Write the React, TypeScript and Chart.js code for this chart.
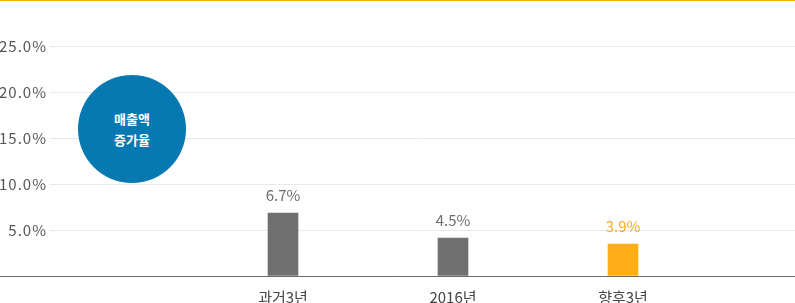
import React, { useEffect, useRef } from 'react';
import { Chart, registerables } from 'chart.js';

Chart.register(...registerables);

const categories = ['과거3년', '2016년', '향후3년'];
const growthValues = [6.85, 4.13, 3.48];
const valueLabels = ['6.7%', '4.5%', '3.9%'];
const barColors = ['#707070', '#707070', '#fdae17'];
const labelColors = ['#6e6e6e', '#6e6e6e', '#f9a825'];
const yTickValues = [5, 10, 15, 20, 25];
const Y_MAX = 25;
const X_MIN = -0.3706;
const X_MAX = 4.0118;

const FONT = '"Noto Sans CJK KR", "Noto Sans", sans-serif';

const overlayPlugin = {
  id: 'overlay',
  afterDatasetsDraw(chart: any) {
    const ctx = chart.ctx;
    const meta = chart.getDatasetMeta(0);
    const yScale = chart.scales.y;
    ctx.save();
    // baseline across full width
    const y0 = Math.round(yScale.getPixelForValue(0));
    ctx.strokeStyle = '#6b6b6b';
    ctx.lineWidth = 1;
    ctx.beginPath();
    ctx.moveTo(0, y0 + 0.5);
    ctx.lineTo(chart.width, y0 + 0.5);
    ctx.stroke();
    // y tick labels (with letter spacing)
    ctx.font = '15px ' + FONT;
    ctx.textBaseline = 'middle';
    ctx.textAlign = 'right';
    ctx.fillStyle = '#555555';
    try {
      (ctx as any).letterSpacing = '1px';
    } catch (e) {}
    yTickValues.forEach((v) => {
      ctx.fillText(v.toFixed(1) + '%', chart.chartArea.left - 3, yScale.getPixelForValue(v));
    });
    try {
      (ctx as any).letterSpacing = '0px';
    } catch (e) {}
    // value labels
    ctx.textAlign = 'center';
    meta.data.forEach((bar: any, i: number) => {
      ctx.fillStyle = labelColors[i];
      ctx.fillText(valueLabels[i], bar.x, bar.y - 18);
    });
    ctx.restore();
  },
};

export default function App() {
  const ref = useRef<HTMLCanvasElement>(null);

  useEffect(() => {
    document.body.style.margin = '0';
    const chart = new Chart(ref.current!, {
      type: 'bar',
      data: {
        datasets: [
          {
            data: categories.map((c, i) => ({ x: i + 1, y: growthValues[i] })),
            backgroundColor: barColors,
            barThickness: 30,
            borderWidth: 0,
          },
        ],
      },
      options: {
        responsive: false,
        animation: false,
        devicePixelRatio: 1,
        layout: { padding: { top: 46, left: 0, right: 0, bottom: 0 } },
        plugins: { legend: { display: false }, tooltip: { enabled: false } },
        scales: {
          x: {
            type: 'linear',
            offset: false,
            min: X_MIN,
            max: X_MAX,
            grid: { display: false, drawTicks: false, offset: false },
            border: { display: false },
            afterBuildTicks: (scale: any) => {
              scale.ticks = categories.map((c, i) => ({ value: i + 1 }));
            },
            afterFit: (scale: any) => {
              scale.height = 27;
            },
            ticks: {
              autoSkip: false,
              maxRotation: 0,
              padding: 12,
              color: '#444444',
              font: { family: FONT, size: 15 },
              callback: (v: any) => categories[Math.round(v) - 1] ?? '',
            },
          },
          y: {
            min: 0,
            max: Y_MAX,
            grid: {
              drawTicks: false,
              color: (c: any) =>
                yTickValues.includes(c.tick?.value) ? '#e9e9e9' : 'rgba(0,0,0,0)',
            },
            border: { display: false },
            afterBuildTicks: (scale: any) => {
              scale.ticks = [0, ...yTickValues].map((v) => ({ value: v }));
            },
            afterFit: (scale: any) => {
              scale.width = 50;
            },
            ticks: {
              padding: 4,
              color: 'rgba(0,0,0,0)',
              font: { family: FONT, size: 15 },
              callback: () => '',
            },
          },
        },
      },
      plugins: [overlayPlugin],
    });
    return () => chart.destroy();
  }, []);

  return (
    <div style={{ position: 'relative', width: 795, height: 303, background: '#fff' }}>
      <canvas ref={ref} width={795} height={303} style={{ display: 'block' }} />
      <div
        style={{
          position: 'absolute',
          left: 0,
          top: 0,
          width: 795,
          height: 1,
          background: '#f5ae00',
        }}
      />
      <div
        style={{
          position: 'absolute',
          left: 78,
          top: 75,
          width: 108,
          height: 108,
          borderRadius: '50%',
          background: '#0779b1',
          color: '#fff',
          fontFamily: FONT,
          fontWeight: 'bold',
          fontSize: 13,
          lineHeight: '21px',
          display: 'flex',
          flexDirection: 'column',
          alignItems: 'center',
          justifyContent: 'center',
          textAlign: 'center',
        }}
      >
        <div>매출액</div>
        <div>증가율</div>
      </div>
    </div>
  );
}
